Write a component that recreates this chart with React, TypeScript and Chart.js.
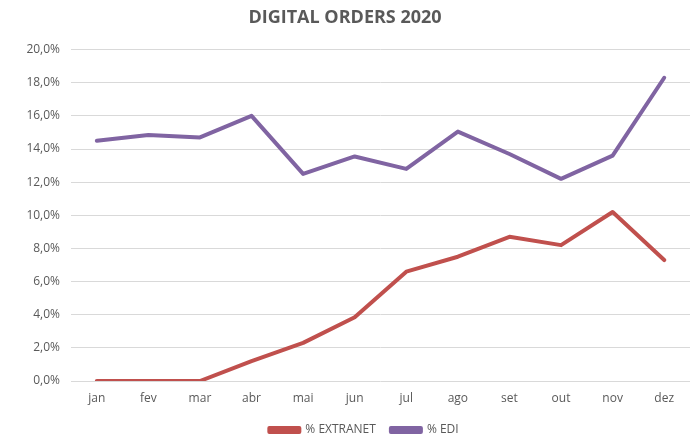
import React, { useEffect, useRef } from "react";
import { Chart, registerables } from "chart.js";

Chart.register(...registerables);

const months = ["jan", "fev", "mar", "abr", "mai", "jun", "jul", "ago", "set", "out", "nov", "dez"];
const extranet = [0, 0, 0, 1.2, 2.3, 3.85, 6.6, 7.5, 8.7, 8.2, 10.2, 7.3];
const edi = [14.5, 14.85, 14.7, 16.0, 12.5, 13.55, 12.8, 15.05, 13.7, 12.2, 13.6, 18.3];
const seriesNames = ["% EXTRANET", "% EDI"];
const chartTitle = "DIGITAL ORDERS 2020";

const RED = "#C0504D";
const PURPLE = "#8064A2";
const TEXT = "#595959";
const FONT = "'Open Sans', sans-serif";

const shiftLegend = {
  id: "shiftLegend",
  afterLayout(chart: any) {
    const l = chart.legend;
    if (l) {
      l.left += 19;
      l.right += 19;
    }
  },
};

export default function App() {
  const ref = useRef<HTMLCanvasElement | null>(null);
  useEffect(() => {
    document.body.style.margin = "0";
    const ctx = ref.current!;
    const lineDs = (label: string, data: number[], color: string) => ({
      label,
      data,
      borderColor: color,
      backgroundColor: color,
      borderWidth: 4,
      pointRadius: 0,
      tension: 0,
      borderJoinStyle: "round" as const,
      borderCapStyle: "round" as const,
    });
    const chart = new Chart(ctx, {
      type: "line",
      data: {
        labels: months,
        datasets: [
          lineDs(seriesNames[0], extranet, RED),
          lineDs(seriesNames[1], edi, PURPLE),
        ],
      },
      plugins: [shiftLegend],
      options: {
        animation: false,
        responsive: false,
        layout: { padding: { left: 0, right: 2, top: 0, bottom: 0 } },
        plugins: {
          title: {
            display: true,
            text: chartTitle,
            color: TEXT,
            font: { family: FONT, size: 18, weight: "bold" },
            padding: { top: 7, bottom: 21 },
          },
          legend: {
            position: "bottom",
            maxHeight: 26,
            labels: {
              color: TEXT,
              font: { family: FONT, size: 12 },
              boxWidth: 30,
              boxHeight: 4,
              padding: 15,
            },
          },
          tooltip: { enabled: false },
        },
        scales: {
          x: {
            offset: true,
            grid: { display: false, drawTicks: false },
            border: { display: false },
            ticks: { color: TEXT, font: { family: FONT, size: 12 }, padding: 10 },
            afterFit: (s: any) => {
              s.height = 28;
            },
          },
          y: {
            min: 0,
            max: 20,
            ticks: {
              stepSize: 2,
              color: TEXT,
              font: { family: FONT, size: 12 },
              padding: 11,
              callback: (v: any) => Number(v).toFixed(1).replace(".", ",") + "%",
            },
            grid: { color: "#D9D9D9", lineWidth: 1, drawTicks: false },
            border: { display: false },
            afterFit: (s: any) => {
              s.width = 71;
            },
          },
        },
      },
    });
    return () => chart.destroy();
  }, []);
  return (
    <div style={{ width: 692, height: 435, background: "#fff" }}>
      <canvas ref={ref} width={692} height={435} />
    </div>
  );
}
